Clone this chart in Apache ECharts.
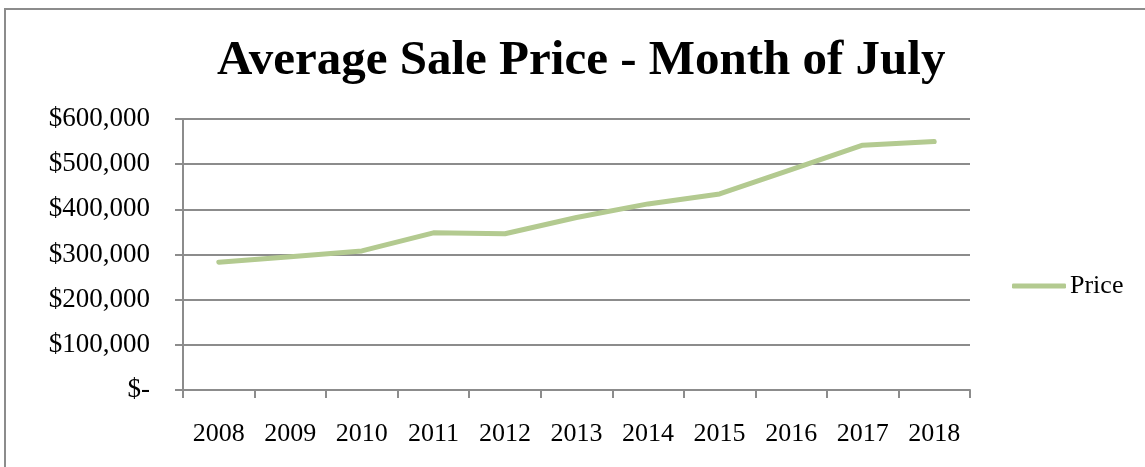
<!DOCTYPE html>
<html>
<head>
<meta charset="utf-8">
<script src="https://cdn.jsdelivr.net/npm/echarts@6/dist/echarts.min.js"></script>
<style>
  html, body { margin: 0; padding: 0; background: #fff; }
  #main { width: 1145px; height: 467px; }
</style>
</head>
<body>
<div id="main"></div>
<script>
// chart values
var years = ['2008', '2009', '2010', '2011', '2012', '2013', '2014', '2015', '2016', '2017', '2018'];
var prices = [283000, 295000, 308000, 348000, 346000, 382000, 412000, 434000, 488000, 542000, 550000];
var yTicks = [0, 100000, 200000, 300000, 400000, 500000, 600000];

var chart = echarts.init(document.getElementById('main'));
var font = '"Liberation Serif", "DejaVu Serif", serif';
var gray = '#8c8c8c';
var green = '#b3ca90';

var option = {
  backgroundColor: '#ffffff',
  animation: false,
  title: {
    text: 'Average Sale Price - Month of July',
    left: 217,
    top: 37,
    padding: 0,
    textStyle: { fontFamily: font, fontSize: 49, fontWeight: 'bold', color: '#000' }
  },
  legend: {
    data: ['Price'],
    left: 1012,
    top: 273,
    padding: 0,
    icon: 'roundRect',
    itemWidth: 54,
    itemHeight: 5,
    itemGap: 4,
    itemStyle: { color: green },
    textStyle: { fontFamily: font, fontSize: 26, color: '#000', padding: [0, 0, 0, -1] }
  },
  grid: { left: 183, right: 175, top: 119, bottom: 77 },
  graphic: [{
    type: 'rect',
    shape: { x: 5, y: 9, width: 1160, height: 480 },
    style: { fill: 'none', stroke: gray, lineWidth: 2 },
    silent: true
  }],
  xAxis: {
    type: 'category',
    data: years,
    boundaryGap: true,
    axisLine: { lineStyle: { color: gray, width: 2 } },
    axisTick: { show: true, length: 8, lineStyle: { color: gray, width: 2 } },
    axisLabel: { margin: 31, fontFamily: font, fontSize: 26, color: '#000' }
  },
  yAxis: {
    type: 'value',
    min: yTicks[0],
    max: yTicks[yTicks.length - 1],
    interval: yTicks[1] - yTicks[0],
    axisLine: { show: true, lineStyle: { color: gray, width: 2 } },
    axisTick: { show: true, length: 8, lineStyle: { color: gray, width: 2 } },
    splitLine: { lineStyle: { color: gray, width: 2 } },
    axisLabel: {
      margin: 33,
      fontFamily: font,
      fontSize: 27,
      color: '#000',
      formatter: function (v) {
        if (v === 0) return '$-';
        return '$' + v.toLocaleString('en-US');
      }
    }
  },
  series: [{
    name: 'Price',
    type: 'line',
    data: prices,
    symbol: 'none',
    lineStyle: { color: green, width: 5, cap: 'round', join: 'round' },
    itemStyle: { color: green }
  }]
};

chart.setOption(option);
</script>
</body>
</html>
